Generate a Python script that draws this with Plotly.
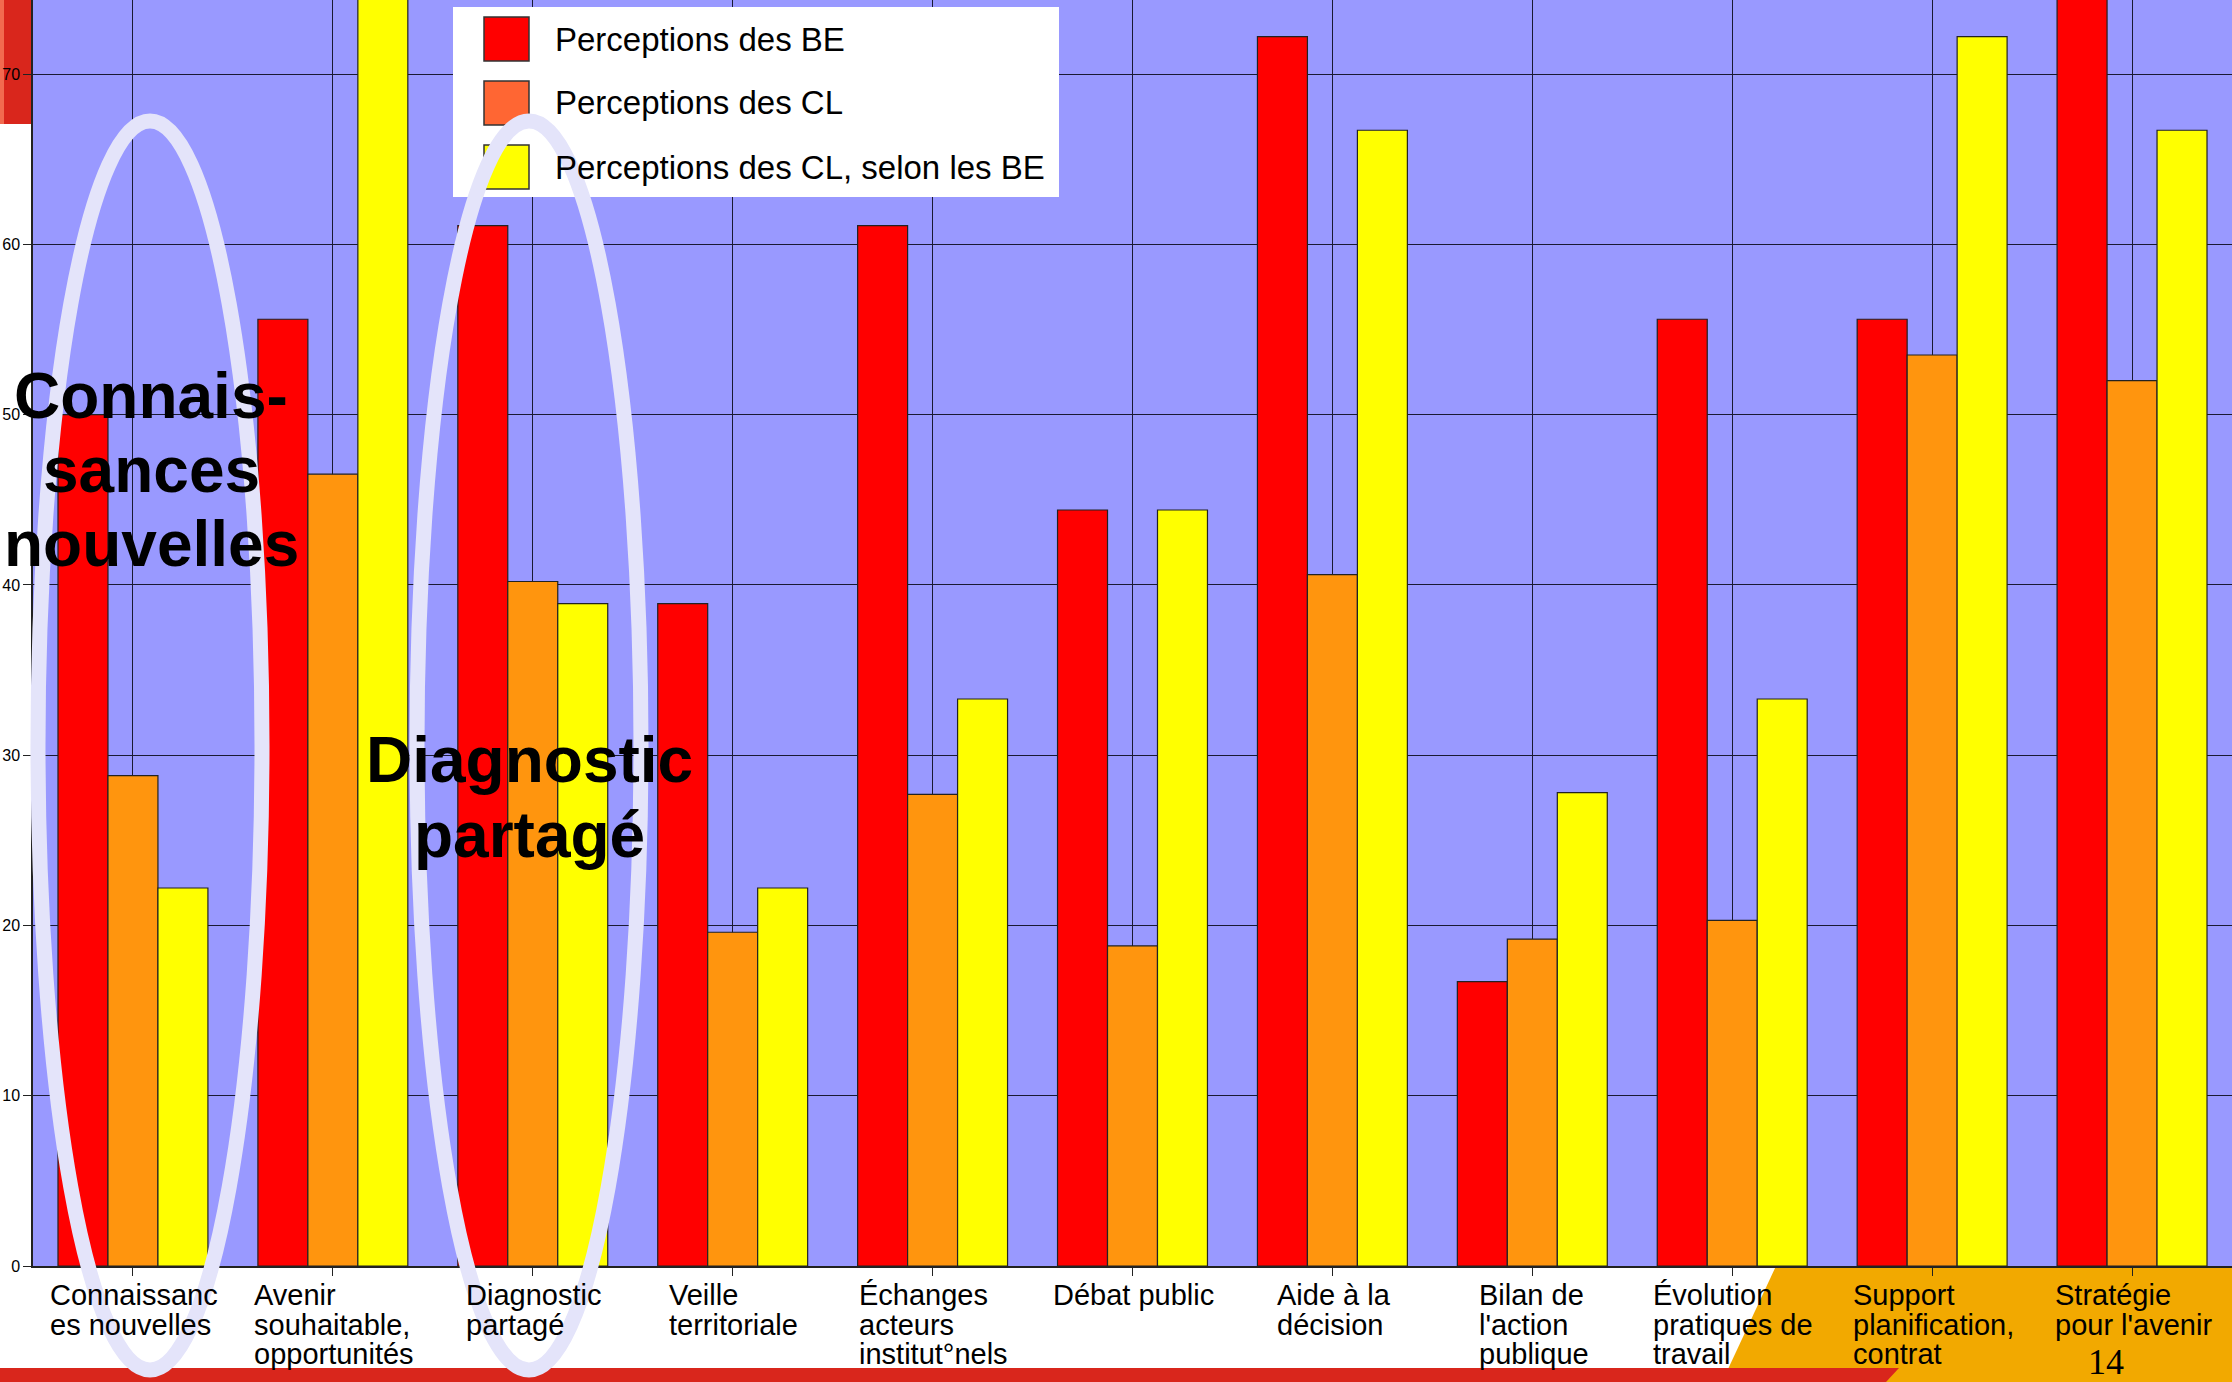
import plotly.graph_objects as go

# ---------------- data ----------------
categories = [
    "Connaissances nouvelles", "Avenir souhaitable, opportunités", "Diagnostic partagé",
    "Veille territoriale", "Échanges acteurs institut°nels", "Débat public",
    "Aide à la décision", "Bilan de l'action publique", "Évolution pratiques de travail",
    "Support planification, contrat", "Stratégie pour l'avenir",
]
tick_label_lines = [
    ["Connaissanc", "es nouvelles"],
    ["Avenir", "souhaitable,", "opportunités"],
    ["Diagnostic", "partagé"],
    ["Veille", "territoriale"],
    ["Échanges", "acteurs", "institut°nels"],
    ["Débat public"],
    ["Aide à la", "décision"],
    ["Bilan de", "l'action", "publique"],
    ["Évolution", "pratiques de", "travail"],
    ["Support", "planification,", "contrat"],
    ["Stratégie", "pour l'avenir"],
]
series_names = ["Perceptions des BE", "Perceptions des CL", "Perceptions des CL, selon les BE"]
perc_be = [50.0, 55.6, 61.1, 38.9, 61.1, 44.4, 72.2, 16.7, 55.6, 55.6, 77.8]
perc_cl = [28.8, 46.5, 40.2, 19.6, 27.7, 18.8, 40.6, 19.2, 20.3, 53.5, 52.0]
perc_cl_selon_be = [22.2, 77.8, 38.9, 22.2, 33.3, 44.4, 66.7, 27.8, 33.3, 72.2, 66.7]
y_ticks = [0, 10, 20, 30, 40, 50, 60, 70]
highlight_lines_1 = ["Connais-", "sances", "nouvelles"]
highlight_lines_2 = ["Diagnostic", "partagé"]
page_number = "14"

# ---------------- geometry ----------------
W, H = 2232, 1382
ML, MR, MT, MB = 33, 0, 0, 116
PW, PH = W - ML - MR, H - MT - MB
LABEL_FONT = 29


def px(xp):
    return (xp - ML) / PW


def py(yp):
    return 1 - (yp - MT) / PH


# Arial / Liberation Sans advance widths (1/1000 em) used to centre the
# left-aligned label blocks on their category, as the original software does.
_ARIAL = {
    " ": 278, "'": 191, ",": 278, "°": 400, "a": 556, "b": 556, "c": 500, "d": 556,
    "e": 556, "é": 556, "f": 278, "g": 556, "h": 556, "i": 222, "j": 222, "k": 500,
    "l": 222, "m": 833, "n": 556, "o": 556, "p": 556, "q": 556, "r": 333, "s": 500,
    "t": 278, "u": 556, "v": 500, "w": 722, "x": 500, "y": 500, "z": 500, "à": 556,
    "A": 667, "B": 667, "C": 722, "D": 722, "E": 667, "É": 667, "S": 667, "V": 667,
    "F": 611, "L": 556, "P": 667,
}


def text_width(s, size):
    return sum(_ARIAL.get(ch, 556) for ch in s) * size / 1000.0


bar_colors = ["#FF0000", "#FF950E", "#FFFF00"]
legend_colors = ["#FF0000", "#FF6633", "#FFFF00"]

fig = go.Figure()
for name, vals, col in zip(series_names, [perc_be, perc_cl, perc_cl_selon_be], bar_colors):
    fig.add_trace(go.Bar(
        x=categories, y=vals, name=name,
        marker=dict(color=col, line=dict(color="#222222", width=1.2)),
        showlegend=False,
    ))

shapes = []
# decorative slide elements (background)
shapes.append(dict(type="path", xref="paper", yref="paper", layer="below",
                   path=f"M {px(1776)} {py(1266)} L {px(2240)} {py(1266)} L {px(2240)} {py(1382)} L {px(1722)} {py(1382)} Z",
                   fillcolor="#F2A900", line=dict(width=0)))
shapes.append(dict(type="path", xref="paper", yref="paper", layer="below",
                   path=f"M {px(0)} {py(1368)} L {px(1899)} {py(1368)} L {px(1886)} {py(1382)} L {px(0)} {py(1382)} Z",
                   fillcolor="#D9261C", line=dict(width=0)))
shapes.append(dict(type="rect", xref="paper", yref="paper", layer="below",
                   x0=px(0), x1=px(33), y0=py(124), y1=py(0),
                   fillcolor="#D9261C", line=dict(width=0)))
shapes.append(dict(type="rect", xref="paper", yref="paper", layer="below",
                   x0=px(0), x1=px(4), y0=py(124), y1=py(0),
                   fillcolor="#F26A4F", line=dict(width=0)))

# legend box
shapes.append(dict(type="rect", xref="paper", yref="paper", layer="above",
                   x0=px(453), x1=px(1059), y0=py(197), y1=py(7),
                   fillcolor="white", line=dict(width=0)))
legend_rows = [39, 103, 167]
for yc, col in zip(legend_rows, legend_colors):
    shapes.append(dict(type="rect", xref="paper", yref="paper", layer="above",
                       x0=px(484), x1=px(529), y0=py(yc + 22), y1=py(yc - 22),
                       fillcolor=col, line=dict(color="#333333", width=1.5)))

# ellipses
for cx in (150, 529):
    shapes.append(dict(type="circle", xref="paper", yref="paper", layer="above",
                       x0=px(cx - 112), x1=px(cx + 112), y0=py(1370), y1=py(121),
                       fillcolor="rgba(0,0,0,0)", line=dict(color="#E4E4FA", width=15)))

annotations = []
# category labels: left-aligned lines, block centred on the category
for cat, lines in zip(categories, tick_label_lines):
    block_w = max(text_width(l, LABEL_FONT) for l in lines)
    for k, line in enumerate(lines):
        annotations.append(dict(
            x=cat, xref="x", xshift=-block_w / 2 - 1, xanchor="left",
            y=py(1295 + 29.5 * k), yref="paper", yanchor="middle",
            text=line, showarrow=False,
            font=dict(family="Liberation Sans, Arial", size=LABEL_FONT, color="black"),
        ))
# legend texts
for yc, name in zip(legend_rows, series_names):
    annotations.append(dict(
        x=px(553), xref="paper", xanchor="left", y=py(yc), yref="paper", yanchor="middle",
        text=name, showarrow=False,
        font=dict(family="Liberation Sans, Arial", size=33, color="black"),
    ))
# highlight texts
for k, line in enumerate(highlight_lines_1):
    annotations.append(dict(
        x=px(151), xref="paper", xanchor="center", y=py(396 + 74 * k), yref="paper", yanchor="middle",
        text=f"<b>{line}</b>", showarrow=False,
        font=dict(family="Liberation Sans, Arial", size=64, color="black"),
    ))
for k, line in enumerate(highlight_lines_2):
    annotations.append(dict(
        x=px(529), xref="paper", xanchor="center", y=py(760 + 75 * k), yref="paper", yanchor="middle",
        text=f"<b>{line}</b>", showarrow=False,
        font=dict(family="Liberation Sans, Arial", size=64, color="black"),
    ))
# page number
annotations.append(dict(
    x=px(2106), xref="paper", xanchor="center", y=py(1362), yref="paper", yanchor="middle",
    text=page_number, showarrow=False,
    font=dict(family="Liberation Serif, Times New Roman", size=36, color="black"),
))

fig.update_layout(
    width=W, height=H,
    margin=dict(l=ML, r=MR, t=MT, b=MB, pad=0),
    paper_bgcolor="white", plot_bgcolor="#9999FF",
    barmode="group", bargap=0.25, bargroupgap=0,
    shapes=shapes, annotations=annotations,
    showlegend=False,
    xaxis=dict(
        type="category", range=[-0.5, 10.5], showticklabels=False,
        ticks="outside", ticklen=8, tickcolor="#222222", tickwidth=1,
        showgrid=True, gridcolor="#1a1a33", gridwidth=1.2,
        showline=True, linecolor="#222222", linewidth=1.5, zeroline=False,
    ),
    yaxis=dict(
        range=[0, 74.35], tickvals=y_ticks,
        ticks="outside", ticklen=8, tickcolor="#222222", tickwidth=1,
        tickfont=dict(family="Liberation Sans, Arial", size=16, color="black"),
        showgrid=True, gridcolor="#1a1a33", gridwidth=1.2,
        showline=True, linecolor="#222222", linewidth=1.5, zeroline=False,
    ),
)

fig.write_html(
    "out.html",
    config={"displayModeBar": False},
    post_script="document.body.style.margin='0';document.body.style.overflow='hidden';",
)
